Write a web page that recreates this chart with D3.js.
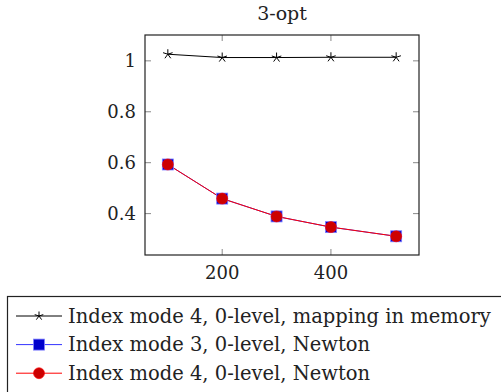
<!DOCTYPE html>
<meta charset="utf-8">
<style>
body { margin: 0; background: #fff; }
text { font-family: "DejaVu Serif", serif; fill: #222; }
</style>
<svg width="501" height="392"></svg>
<script src="https://d3js.org/d3.v7.min.js"></script>
<script>
var sizes = [100, 200, 300, 400, 520];
var mappingMem = [1.026, 1.013, 1.013, 1.014, 1.014];
var mode3Newton = [0.593, 0.459, 0.389, 0.347, 0.311];
var mode4Newton = [0.593, 0.459, 0.389, 0.347, 0.311];
var xTicks = [200, 400];
var yTicks = [0.4, 0.6, 0.8, 1];
var seriesNames = ["Index mode 4, 0-level, mapping in memory",
                   "Index mode 3, 0-level, Newton",
                   "Index mode 4, 0-level, Newton"];

var svg = d3.select("svg"),
    margin = {top: 35, left: 145},
    width = 274,
    height = 220;

var x = d3.scaleLinear().domain([58, 562]).range([0, width]);
var y = d3.scaleLinear().domain([0.2375, 1.1015]).range([height, 0]);

var g = svg.append("g")
    .attr("transform", "translate(" + margin.left + "," + margin.top + ")");

// inner ticks on all four sides
var tk = 6;
g.selectAll(".xt").data(xTicks).enter().append("g").each(function(d) {
  var s = d3.select(this);
  s.append("line").attr("x1", x(d)).attr("x2", x(d)).attr("y1", height).attr("y2", height - tk);
  s.append("line").attr("x1", x(d)).attr("x2", x(d)).attr("y1", 0).attr("y2", tk);
}).attr("stroke", "#888").attr("stroke-width", 1);
g.selectAll(".yt").data(yTicks).enter().append("g").each(function(d) {
  var s = d3.select(this);
  s.append("line").attr("x1", 0).attr("x2", tk).attr("y1", y(d)).attr("y2", y(d));
  s.append("line").attr("x1", width).attr("x2", width - tk).attr("y1", y(d)).attr("y2", y(d));
}).attr("stroke", "#888").attr("stroke-width", 1);

g.append("rect").attr("width", width).attr("height", height)
    .attr("fill", "none").attr("stroke", "#222").attr("stroke-width", 1.2);

g.selectAll(".xl").data(xTicks).enter().append("text")
    .attr("x", function(d) { return x(d); }).attr("y", height + 24)
    .attr("text-anchor", "middle").attr("font-size", 18)
    .text(function(d) { return d; });
g.selectAll(".yl").data(yTicks).enter().append("text")
    .attr("x", -9).attr("y", function(d) { return y(d); }).attr("dy", "0.35em")
    .attr("text-anchor", "end").attr("font-size", 18)
    .text(function(d) { return d; });

svg.append("text").attr("x", margin.left + width / 2).attr("y", 20)
    .attr("text-anchor", "middle").attr("font-size", 19).text("3-opt");

var line = d3.line().x(function(d, i) { return x(sizes[i]); }).y(function(d) { return y(d); });

function star(s, cx, cy, r) {
  var p = "";
  for (var k = 0; k < 5; k++) {
    var a = -Math.PI / 2 + k * 2 * Math.PI / 5;
    p += "M" + cx + "," + cy + "L" + (cx + r * Math.cos(a)) + "," + (cy + r * Math.sin(a));
  }
  s.append("path").attr("d", p).attr("stroke", "#000").attr("stroke-width", 1);
}
function square(s, cx, cy) {
  s.append("rect").attr("x", cx - 5.5).attr("y", cy - 5.5).attr("width", 11).attr("height", 11)
      .attr("fill", "#0000cc").attr("stroke", "#8080ff").attr("stroke-width", 0.8);
}
function dot(s, cx, cy) {
  s.append("circle").attr("cx", cx).attr("cy", cy).attr("r", 5.5)
      .attr("fill", "#cc0000").attr("stroke", "#ff0000").attr("stroke-width", 0.6);
}

var series = [
  {v: mappingMem, color: "#000", mark: star},
  {v: mode3Newton, color: "#3333ff", mark: square},
  {v: mode4Newton, color: "#ff0000", mark: dot}
];

series.forEach(function(s) {
  g.append("path").attr("d", line(s.v)).attr("fill", "none")
      .attr("stroke", s.color).attr("stroke-width", 1);
});
series.forEach(function(s) {
  s.v.forEach(function(d, i) { s.mark(g, x(sizes[i]), y(d), 5); });
});

// legend
var lg = svg.append("g");
lg.append("rect").attr("x", 7.5).attr("y", 296.5).attr("width", 500).attr("height", 100)
    .attr("fill", "#fff").attr("stroke", "#222").attr("stroke-width", 1.2);
series.forEach(function(s, i) {
  var cy = 316 + i * 28.6;
  lg.append("line").attr("x1", 16).attr("x2", 62).attr("y1", cy).attr("y2", cy)
      .attr("stroke", s.color).attr("stroke-width", 1);
  s.mark(lg, 39, cy, 4.5);
  lg.append("text").attr("x", 68).attr("y", cy).attr("dy", "0.35em")
      .attr("font-size", 19.5).text(seriesNames[i]);
});
</script>
